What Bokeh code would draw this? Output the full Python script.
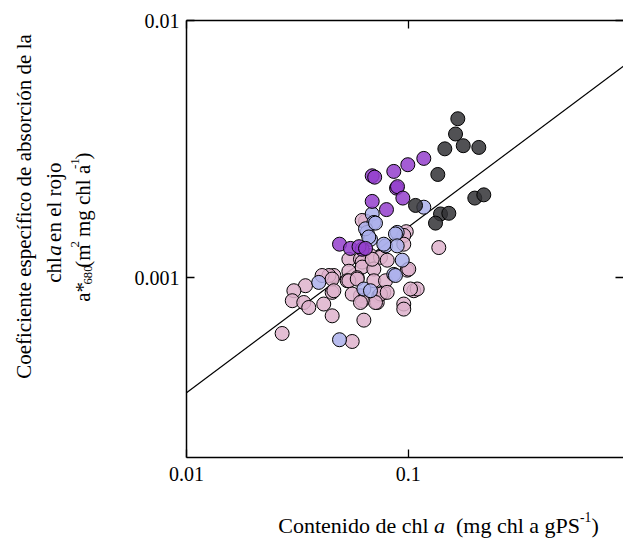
import math
from bokeh.plotting import figure
from bokeh.layouts import column, row
from bokeh.models import Range1d, LogAxis, FixedTicker, Label
from bokeh.embed import file_html
from bokeh.resources import INLINE

# ---------------- data ----------------
pink_x = [0.0980, 0.0955, 0.1374, 0.0955, 0.0990, 0.1006, 0.1060, 0.1098, 0.0955, 0.0955,
          0.0737, 0.0776, 0.0725, 0.0642, 0.0620, 0.0540, 0.0609, 0.0676, 0.0750, 0.0804,
          0.0620, 0.0540, 0.0620, 0.0700, 0.0462, 0.0531, 0.0589, 0.0700, 0.0790, 0.0609,
          0.0750, 0.0804, 0.0712, 0.0620, 0.0454, 0.0439, 0.0409, 0.0454, 0.0344, 0.0305,
          0.0462, 0.0300, 0.0338, 0.0356, 0.0416, 0.0454, 0.0631, 0.0270, 0.0559, 0.0540,
          0.0589, 0.0559, 0.0609, 0.0688, 0.1024]
pink_y = [0.00151, 0.00146, 0.00131, 0.00135, 0.00107, 0.00108, 0.000890, 0.000904, 0.000790, 0.000755,
          0.000851, 0.000877, 0.000801, 0.00166, 0.00167, 0.00118, 0.00118, 0.00122, 0.00120, 0.00117,
          0.00115, 0.00106, 0.00110, 0.00108, 0.00102, 0.000973, 0.00100, 0.000973, 0.000973, 0.000851,
          0.000864, 0.000877, 0.000801, 0.000814, 0.000877, 0.00102, 0.00102, 0.000988, 0.000931, 0.000890,
          0.000890, 0.000814, 0.000801, 0.000766, 0.000790, 0.000711, 0.000684, 0.000607, 0.000565, 0.000973,
          0.000988, 0.000864, 0.000801, 0.00118, 0.000904]

lav_x = [0.1176, 0.0688, 0.0700, 0.0892, 0.0876, 0.0653, 0.0676, 0.0790, 0.0892, 0.0776,
         0.0940, 0.0861, 0.0876, 0.0395, 0.0631, 0.0676, 0.0490, 0.0642, 0.0712, 0.0664]
lav_y = [0.00188, 0.00177, 0.00164, 0.00150, 0.00148, 0.00150, 0.00141, 0.00133, 0.00133, 0.00135,
         0.00117, 0.00103, 0.00102, 0.000959, 0.000904, 0.000890, 0.000574, 0.00155, 0.00163, 0.00144]

pur_x = [0.1176, 0.0996, 0.0861, 0.0688, 0.0706, 0.0886, 0.0895, 0.0946, 0.0688, 0.0798,
         0.0490, 0.0549, 0.0620, 0.0600, 0.0642]
pur_y = [0.00291, 0.00275, 0.00259, 0.00249, 0.00246, 0.00223, 0.00226, 0.00204, 0.00198, 0.00184,
         0.00135, 0.00130, 0.00129, 0.00132, 0.00130]

dark_x = [0.1674, 0.1635, 0.1771, 0.2082, 0.1463, 0.1360, 0.1079, 0.1997, 0.2193, 0.1399,
          0.1525, 0.1328]
dark_y = [0.00415, 0.00362, 0.00326, 0.00321, 0.00317, 0.00252, 0.00191, 0.00204, 0.00210, 0.00177,
          0.00178, 0.00163]

fit_x = [0.01, 1.0]
fit_y = [0.000357, 0.00693]

x_ticks = [0.01, 0.1, 1.0]
x_tick_labels = ["0.01", "0.1", "1"]
y_ticks = [0.001, 0.01]
y_tick_labels = ["0.001", "0.01"]

x_title_runs = [("Contenido de chl ", "normal"), ("a", "italic"),
                ("  (mg chl a gPS", "normal"), ("-1", "sup"), (")", "normal")]
y_title_lines = [
    [("Coeficiente específico de absorción de la", "normal")],
    [("chl ", "normal"), ("a", "italic"), (" en el rojo", "normal")],
    [("a*", "normal"), ("680", "sub"), ("(m", "normal"), ("2", "sup"),
     (" mg chl a ", "normal"), ("-1", "sup"), (")", "normal")],
]

# ---------------- layout constants ----------------
W, H = 623, 538
LEFT_W = 120           # width of the y-title strip
BOT_H = 40             # height of the x-title strip
MAIN_W = W - LEFT_W
MAIN_H = H - BOT_H
FL, FT = 186 - LEFT_W, 20
FB = MAIN_H - 457
FRAME_W = MAIN_W - FL
FONT = "Liberation Serif"
TICK_SIZE = 20
XT_SIZE = 22
YT_SIZE = 21

p = figure(width=MAIN_W, height=MAIN_H, x_axis_type="log", y_axis_type="log",
           x_range=Range1d(0.01, 10 ** (-2 + FRAME_W / 221.7)),
           y_range=Range1d(0.0002, 0.01),
           output_backend="svg", toolbar_location=None,
           min_border_left=FL, min_border_right=0, min_border_top=FT, min_border_bottom=FB)
p.outline_line_color = None
p.xgrid.visible = False
p.ygrid.visible = False
p.background_fill_color = "white"
p.border_fill_color = "white"


def style_axis(ax, ticks, labels, show_labels=True, show_line=True):
    ax.ticker = FixedTicker(ticks=ticks, minor_ticks=[])
    ax.major_tick_in = 8
    ax.major_tick_out = 0
    ax.minor_tick_in = 0
    ax.minor_tick_out = 0
    ax.major_tick_line_color = "black"
    ax.major_tick_line_width = 1.3
    ax.axis_line_color = "black" if show_line else None
    ax.axis_line_width = 1.5
    ax.major_label_text_font = FONT
    ax.major_label_text_font_style = "normal"
    if show_labels:
        ax.major_label_overrides = {t: l for t, l in zip(ticks, labels)}
        ax.major_label_text_font_size = f"{TICK_SIZE}px"
        ax.major_label_text_color = "black"
    else:
        ax.major_label_overrides = {t: "" for t in ticks}
        ax.major_label_text_font_size = "10px"
        ax.major_label_text_color = None
        ax.major_label_standoff = 0


style_axis(p.xaxis[0], x_ticks, x_tick_labels)
p.xaxis[0].major_label_standoff = 9
style_axis(p.yaxis[0], y_ticks, y_tick_labels)
p.yaxis[0].major_label_standoff = 7

top_ax = LogAxis()
style_axis(top_ax, x_ticks, x_tick_labels, show_labels=False)
p.add_layout(top_ax, "above")
right_ax = LogAxis()
style_axis(right_ax, y_ticks, y_tick_labels, show_labels=False, show_line=False)
p.add_layout(right_ax, "right")

# ---------------- data marks ----------------
p.line(fit_x, fit_y, line_color="black", line_width=1.2)

groups = [
    (pink_x, pink_y, "#deb3cd"),
    (lav_x, lav_y, "#abb0eb"),
    (pur_x, pur_y, "#9440cc"),
    (dark_x, dark_y, "#333336"),
]
for gx, gy, col in groups:
    p.scatter(gx, gy, size=14, marker="circle", fill_color=col, fill_alpha=0.85,
              line_color="black", line_width=1)


# ---------------- title strips (frames cover the whole strip; data units = page pixels) ----
def strip(w, h, x0, y0):
    f = figure(width=w, height=h, x_range=Range1d(x0, x0 + w), y_range=Range1d(y0 + h, y0),
               x_axis_location=None, y_axis_location=None, output_backend="svg",
               toolbar_location=None, min_border=0)
    f.outline_line_color = None
    f.xgrid.visible = False
    f.ygrid.visible = False
    f.background_fill_color = "white"
    f.border_fill_color = "white"
    return f


yfig = strip(LEFT_W, MAIN_H, 0, 0)
xfig = strip(W, BOT_H, 0, MAIN_H)

TW = {' ': 250, '(': 333, ')': 333, '-': 333, '*': 500, '.': 250, 'C': 667, 'P': 556, 'S': 556,
      'a': 444, 'b': 500, 'c': 444, 'd': 500, 'e': 444, 'f': 333, 'g': 500, 'h': 500, 'i': 278,
      'j': 278, 'l': 278, 'm': 778, 'n': 500, 'o': 500, 'p': 500, 'r': 333, 's': 389, 't': 278,
      'í': 278, 'ó': 500}


def text_w(s, size, italic=False):
    tot = 0
    for ch in s:
        if ch.isdigit():
            tot += 500
        elif italic and ch == 'a':
            tot += 500
        else:
            tot += TW.get(ch, 500)
    return tot * size / 1000.0


def run_props(kind, base):
    if kind == "sup":
        return base * 0.62, "normal", base * 0.38
    if kind == "sub":
        return base * 0.6, "normal", -base * 0.28
    if kind == "italic":
        return base, "italic", 0
    return base, "normal", 0


def place_runs(fig, runs, base, cx, cy, rotated):
    # cx, cy: page pixels (top-left origin); centre along the text, and baseline position
    total = sum(text_w(t, run_props(k, base)[0], k == "italic") for t, k in runs)
    pos = -total / 2.0
    for t, kind in runs:
        sz, st, shift = run_props(kind, base)
        lead = len(t) - len(t.lstrip(' '))
        txt = t.strip()
        off = pos + text_w(' ' * lead, sz)
        if txt:
            if rotated:
                lx, ly, ang = cx - shift, cy - off, math.pi / 2
            else:
                lx, ly, ang = cx + off, cy - shift, 0
            fig.add_layout(Label(x=lx, y=ly, text=txt, angle=ang, text_align="left",
                                 text_baseline="alphabetic", text_font=FONT,
                                 text_font_size=f"{sz:.1f}px", text_font_style=st,
                                 text_color="black"))
        pos += text_w(t, sz, st == "italic")


place_runs(xfig, x_title_runs, XT_SIZE, 438, 525, rotated=False)
for line, bx in zip(y_title_lines, [23, 53, 82]):
    place_runs(yfig, line, YT_SIZE, bx, 236, rotated=True)

layout = column(row(yfig, p), xfig)
open("out.html", "w").write(file_html(layout, INLINE))
